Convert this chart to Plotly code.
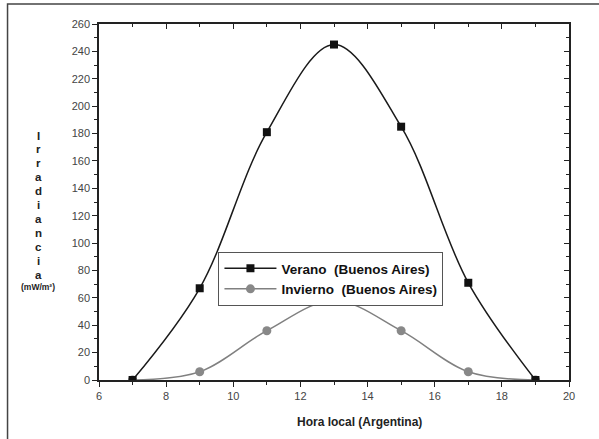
import plotly.graph_objects as go

hours = [7, 9, 11, 13, 15, 17, 19]
verano = [0, 67, 181, 245, 185, 71, 0]
invierno = [0, 6, 36, 58, 36, 6, 0]

x_ticks = [6, 8, 10, 12, 14, 16, 18, 20]
y_ticks = list(range(0, 261, 20))

W, H = 599, 439
L, R, T, B = 98.5, 599 - 568.7, 24, 439 - 380
pw, ph = W - L - R, H - T - B

def px_x(p):
    return (p - L) / pw

def px_y(p):
    return (H - B - p) / ph

fig = go.Figure()
fig.add_trace(go.Scatter(
    x=hours, y=invierno, mode="lines+markers", name="<b>Invierno  (Buenos Aires)</b>",
    line=dict(color="#808080", width=1.5, shape="spline", smoothing=1),
    marker=dict(symbol="circle", size=9, color="#888888"),
))
fig.add_trace(go.Scatter(
    x=hours, y=verano, mode="lines+markers", name="<b>Verano  (Buenos Aires)</b>",
    line=dict(color="#1a1a1a", width=1.5, shape="spline", smoothing=1),
    marker=dict(symbol="square", size=8, color="#111111"),
))

axis_font = dict(family="Liberation Sans, Arial", size=11, color="#444444")

fig.update_layout(
    width=W, height=H,
    margin=dict(l=L, r=R, t=T, b=B),
    paper_bgcolor="white", plot_bgcolor="white",
    showlegend=True,
    legend=dict(
        x=px_x(218), y=px_y(252), xanchor="left", yanchor="top",
        traceorder="reversed",
        bordercolor="#555555", borderwidth=1, bgcolor="white",
        font=dict(family="Liberation Sans, Arial", size=13.5, color="#111111"),
        tracegroupgap=0, itemwidth=52,
    ),
    xaxis=dict(
        range=[6, 20], tickvals=x_ticks, ticktext=[str(v) for v in x_ticks],
        ticks="outside", ticklen=5, tickwidth=1, tickcolor="#222",
        minor=dict(ticks="outside", ticklen=3, dtick=1, tick0=6, tickcolor="#222"),
        showline=True, linecolor="#222", linewidth=1.5,
        showgrid=False, zeroline=False, tickfont=axis_font,
    ),
    yaxis=dict(
        range=[0, 260], tickvals=y_ticks, ticktext=[str(v) for v in y_ticks],
        ticks="outside", ticklen=5, tickwidth=1, tickcolor="#222",
        minor=dict(ticks="outside", ticklen=3, dtick=10, tick0=0, tickcolor="#222"),
        showline=True, linecolor="#222", linewidth=1.5,
        showgrid=False, zeroline=False, tickfont=axis_font,
    ),
    xaxis2=dict(
        overlaying="x", side="top", range=[6, 20], tickvals=x_ticks,
        showticklabels=False, ticks="inside", ticklen=5, tickcolor="#222",
        minor=dict(ticks="inside", ticklen=3, dtick=1, tick0=6, tickcolor="#222"),
        showline=True, linecolor="#222", linewidth=1.5, showgrid=False, zeroline=False,
    ),
    yaxis2=dict(
        overlaying="y", side="right", range=[0, 260], tickvals=y_ticks,
        showticklabels=False, ticks="inside", ticklen=5, tickcolor="#222",
        minor=dict(ticks="inside", ticklen=3, dtick=10, tick0=0, tickcolor="#222"),
        showline=True, linecolor="#222", linewidth=1.5, showgrid=False, zeroline=False,
    ),
)
# invisible trace to activate the mirrored axes
fig.add_trace(go.Scatter(x=[6], y=[0], xaxis="x2", yaxis="y2", mode="markers",
                         marker=dict(opacity=0), showlegend=False, hoverinfo="skip"))

# outer frame (top and left visible)
fig.add_shape(type="rect", xref="paper", yref="paper",
              x0=px_x(7), x1=px_x(640), y0=px_y(480), y1=px_y(4),
              line=dict(color="#444444", width=1.5), layer="below")

annotations = []
title_font = dict(family="Liberation Sans, Arial", size=11.5, color="#222222")
letters = "Irradiancia"
for i, ch in enumerate(letters):
    annotations.append(dict(
        x=px_x(38.3), y=px_y(135.5 + i * 13.95), xref="paper", yref="paper",
        text="<b>%s</b>" % ch, showarrow=False, xanchor="center", yanchor="middle",
        font=title_font,
    ))
annotations.append(dict(
    x=px_x(37), y=px_y(287), xref="paper", yref="paper",
    text="<b>(mW/m²)</b>", showarrow=False, xanchor="center", yanchor="middle",
    font=dict(family="Liberation Sans, Arial", size=8.5, color="#222222"),
))
annotations.append(dict(
    x=px_x(359), y=px_y(421.7), xref="paper", yref="paper",
    text="<b>Hora local (Argentina)</b>", showarrow=False, xanchor="center", yanchor="middle",
    font=dict(family="Liberation Sans, Arial", size=12, color="#222222"),
))
fig.update_layout(annotations=annotations)

fig.write_html("out.html")
